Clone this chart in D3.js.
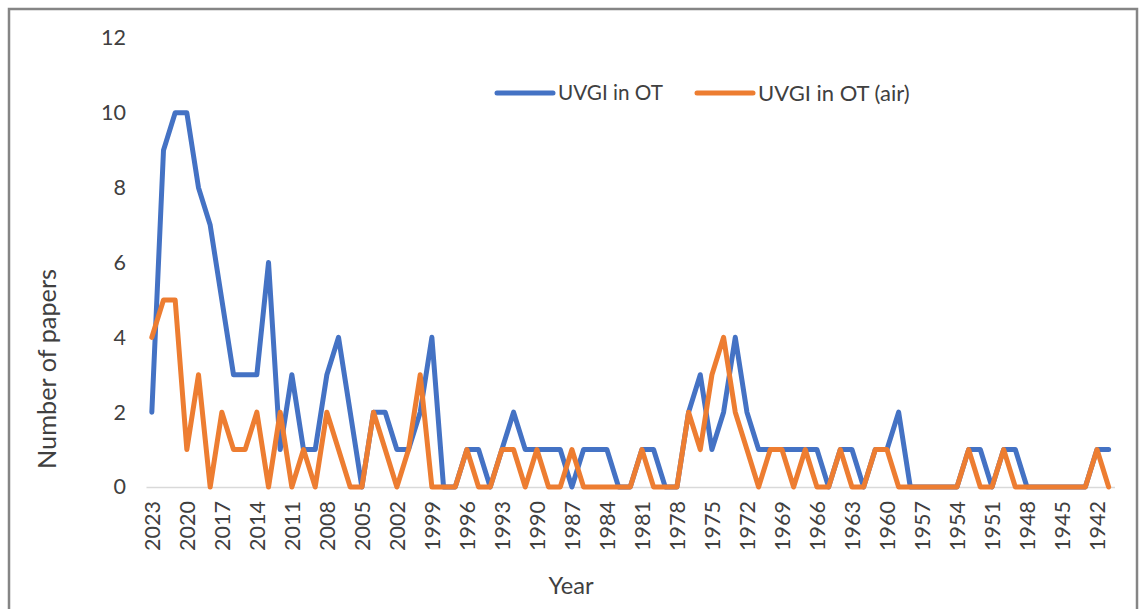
<!DOCTYPE html>
<html><head><meta charset="utf-8">
<script src="https://cdn.jsdelivr.net/npm/d3@7"></script>
<style>html,body{margin:0;padding:0;background:#fff;} svg{display:block;}</style>
</head><body>
<svg id="chart" width="1142" height="609"></svg>
<script>
// ---------- data ----------
const years = ["2023","2022","2021","2020","2019","2018","2017","2016","2015","2014",
"2013","2012","2011","2010","2009","2008","2007","2006","2005","2004",
"2003","2002","2001","2000","1999","1998","1997","1996","1995","1994",
"1993","1992","1991","1990","1989","1988","1987","1986","1985","1984",
"1983","1982","1981","1980","1979","1978","1977","1976","1975","1974",
"1973","1972","1971","1970","1969","1968","1967","1966","1965","1964",
"1963","1962","1961","1960","1959","1958","1957","1956","1955","1954",
"1953","1952","1951","1950","1949","1948","1947","1946","1945","1944",
"1943","1942","1941"];
const tickYears = ["2023","2020","2017","2014","2011","2008","2005","2002","1999","1996",
"1993","1990","1987","1984","1981","1978","1975","1972","1969","1966","1963","1960",
"1957","1954","1951","1948","1945","1942"];
const yTicks = [0,2,4,6,8,10,12];
const seriesNames = ["UVGI in OT","UVGI in OT (air)"];
const uvgiOT = [2,9,10,10,8,7,5,3,3,3,
6,1,3,1,1,3,4,2,0,2,
2,1,1,2,4,0,0,1,1,0,
1,2,1,1,1,1,0,1,1,1,
0,0,1,1,0,0,2,3,1,2,
4,2,1,1,1,1,1,1,0,1,
1,0,1,1,2,0,0,0,0,0,
1,1,0,1,1,0,0,0,0,0,
0,1,1];
const uvgiOTAir = [4,5,5,1,3,0,2,1,1,2,
0,2,0,1,0,2,1,0,0,2,
1,0,1,3,0,0,0,1,0,0,
1,1,0,1,0,0,1,0,0,0,
0,0,1,0,0,0,2,1,3,4,
2,1,0,1,1,0,1,0,0,1,
0,0,1,1,0,0,0,0,0,0,
1,0,0,1,0,0,0,0,0,0,
0,1,0];
const colors = ["#4472C4","#ED7D31"];

// ---------- chart ----------
const FONT = "Lato, 'Open Sans', sans-serif";
const TXT = "#404040";
const svg = d3.select("#chart");

function fit(sel, target){
  const n = sel.node();
  const len = n.getComputedTextLength();
  const fs = parseFloat(sel.attr("font-size"));
  sel.attr("font-size", (fs*target/len).toFixed(2));
  return fs*target/len;
}

svg.append("rect").attr("x",9).attr("y",9).attr("width",1128).attr("height",650)
  .attr("fill","#fff").attr("stroke","#858585").attr("stroke-width",2.5);

const x = d3.scalePoint().domain(years).range([146,1114.5]).padding(0.5);
const y = d3.scaleLinear().domain([0,12]).range([487,38]);

// measure tick font
const probe = svg.append("text").attr("font-family",FONT).attr("font-size",20).text("2023");
const tickFs = fit(probe, 50);
probe.remove();

// y axis
const yAxis = svg.append("g").attr("transform","translate(146,0)")
  .call(d3.axisLeft(y).tickValues(yTicks).tickSize(0).tickPadding(20));
yAxis.select(".domain").remove();
yAxis.selectAll("text").attr("font-family",FONT).attr("font-size",tickFs).attr("fill",TXT);

// x axis
const xAxis = svg.append("g").attr("transform","translate(0,487)")
  .call(d3.axisBottom(x).tickValues(tickYears).tickSize(0).tickSizeOuter(0));
xAxis.select(".domain").attr("stroke","#d9d9d9").attr("stroke-width",1.5);
xAxis.selectAll("text")
  .attr("font-family",FONT).attr("font-size",tickFs).attr("fill",TXT)
  .attr("transform","rotate(-90)").attr("text-anchor","end")
  .attr("x",-14).attr("y",0).attr("dy","0.36em");

// lines
const line = d3.line().x((d,i)=>x(years[i])).y(d=>y(d));
[uvgiOT, uvgiOTAir].forEach((s,k)=>{
  svg.append("path").datum(s).attr("d",line).attr("fill","none")
    .attr("stroke",colors[k]).attr("stroke-width",5)
    .attr("stroke-linejoin","round").attr("stroke-linecap","round");
});

// titles
const yt = svg.append("text").attr("font-family",FONT).attr("font-size",24).attr("fill",TXT)
  .attr("text-anchor","middle").attr("dy","0.35em")
  .attr("transform","translate(47,369) rotate(-90)").text("Number of papers");
fit(yt, 200);
const xt = svg.append("text").attr("font-family",FONT).attr("font-size",24).attr("fill",TXT)
  .attr("text-anchor","middle").attr("x",571).attr("y",594).text("Year");
fit(xt, 45);

// legend
const legX = [497, 697];
const legW = [105, 151.7];
seriesNames.forEach((n,k)=>{
  svg.append("line").attr("x1",legX[k]).attr("x2",legX[k]+56).attr("y1",93).attr("y2",93)
    .attr("stroke",colors[k]).attr("stroke-width",5).attr("stroke-linecap","round");
  const t = svg.append("text").attr("font-family",FONT).attr("font-size",22).attr("fill",TXT)
    .attr("x",legX[k]+61).attr("y",93).attr("dy","0.35em").text(n);
  fit(t, legW[k]);
});
</script>
</body></html>
